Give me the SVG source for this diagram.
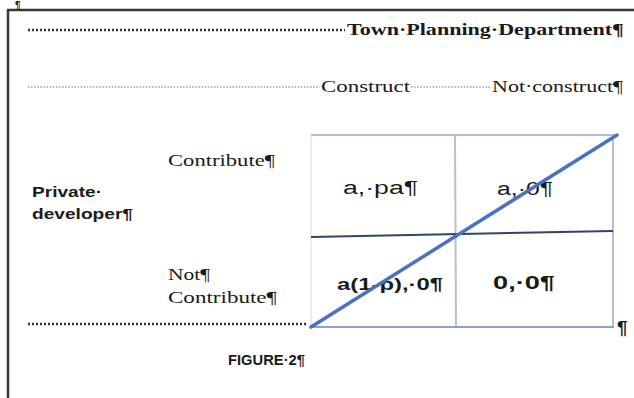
<svg xmlns="http://www.w3.org/2000/svg" width="634" height="398" viewBox="0 0 634 398">
<style>
.serif{font-family:"Liberation Serif","DejaVu Serif",serif;fill:#1a1a1a}
.sans{font-family:"Liberation Sans","Open Sans",sans-serif;fill:#1a1a1a}
.b{font-weight:bold}
.dotA{stroke:#2b3550;stroke-width:2.4;stroke-dasharray:2 2;fill:none}
.dotB{stroke:#6a6a8a;stroke-width:1.2;stroke-dasharray:1.5 1.6;fill:none}
.grid{fill:none}
</style>
<rect x="8" y="10" width="700" height="500" fill="#fff" stroke="#383838" stroke-width="2.5"/>
<text class="sans b" x="15" y="9" font-size="10">¶</text>

<g id="header-tpd">
<line class="dotA" x1="28" y1="30" x2="345" y2="30"/>
<text class="serif b" x="347" y="35" font-size="17" textLength="277" lengthAdjust="spacingAndGlyphs">Town·Planning·Department¶</text>
</g>
<g id="header-strategies">
<line class="dotB" x1="28" y1="87" x2="320" y2="87"/>
<text class="serif" x="321" y="92" font-size="16" textLength="89" lengthAdjust="spacingAndGlyphs">Construct</text>
<line class="dotB" x1="411" y1="87" x2="491" y2="87"/>
<text class="serif" x="492" y="92" font-size="16" textLength="131" lengthAdjust="spacingAndGlyphs">Not·construct¶</text>
</g>

<g id="row-contribute">
<text class="serif" x="168" y="166" font-size="17" textLength="107" lengthAdjust="spacingAndGlyphs">Contribute¶</text>
</g>
<g id="player-private">
<text class="sans b" x="32" y="197" font-size="15.5" textLength="70" lengthAdjust="spacingAndGlyphs">Private·</text>
<text class="sans b" x="32" y="219" font-size="15.5" textLength="101" lengthAdjust="spacingAndGlyphs">developer¶</text>
</g>
<g id="row-not-contribute">
<text class="serif" x="168" y="280" font-size="17" textLength="42" lengthAdjust="spacingAndGlyphs">Not¶</text>
<text class="serif" x="168" y="303" font-size="17" textLength="109" lengthAdjust="spacingAndGlyphs">Contribute¶</text>
<line class="dotA" x1="28" y1="324" x2="308" y2="324"/>
</g>

<g id="matrix" class="grid">
<line x1="311" y1="135" x2="614" y2="135" stroke="#b6bfd2" stroke-width="2"/>
<line x1="311" y1="135" x2="311" y2="327" stroke="#d6dbe3" stroke-width="1"/>
<line x1="455" y1="135" x2="456" y2="327" stroke="#b9c0ca" stroke-width="2"/>
<line x1="613" y1="135" x2="613" y2="327" stroke="#b6bfd2" stroke-width="2"/>
<line x1="311" y1="327" x2="614" y2="327" stroke="#8da3cc" stroke-width="2"/>
<line x1="311" y1="237" x2="613" y2="231" stroke="#2e4468" stroke-width="2"/>
</g>
<g id="cell-cc"><text class="sans" x="343" y="194" font-size="18" textLength="75" lengthAdjust="spacingAndGlyphs">a,·pa¶</text></g>
<g id="cell-cn"><text class="sans" x="497" y="195" font-size="18" textLength="56" lengthAdjust="spacingAndGlyphs">a,·0¶</text></g>
<g id="cell-nc"><text class="sans b" x="337" y="290" font-size="16" textLength="106" lengthAdjust="spacingAndGlyphs">a(1-p),·0¶</text></g>
<g id="cell-nn"><text class="sans b" x="493" y="289" font-size="18" textLength="62" lengthAdjust="spacingAndGlyphs">0,·0¶</text></g>

<g id="connectors">
<line x1="311" y1="327" x2="617" y2="135" stroke="#4a72c0" stroke-width="3.5" stroke-linecap="round"/>
</g>

<text class="sans b" x="617" y="334" font-size="19">¶</text>
<g id="caption"><text class="sans b" x="228" y="365" font-size="15.5" textLength="77" lengthAdjust="spacingAndGlyphs">FIGURE·2¶</text></g>
</svg>
